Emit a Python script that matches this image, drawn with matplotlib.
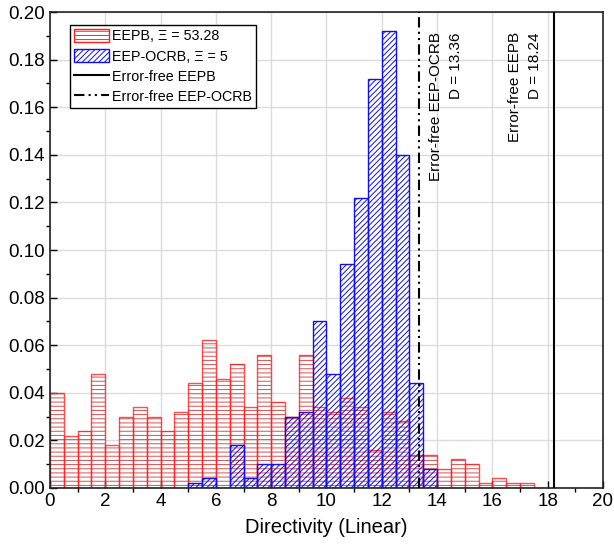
import numpy as np
import matplotlib
matplotlib.use("Agg")
import matplotlib.pyplot as plt
from matplotlib.patches import Patch
from matplotlib.lines import Line2D

plt.rcParams["font.family"] = ["Liberation Sans", "DejaVu Sans"]
plt.rcParams["hatch.linewidth"] = 0.7

# histogram data (bin width 0.5, probability per bin)
bin_width = 0.5
eepb_start = 0.0
eepb_probs = [0.040, 0.022, 0.024, 0.048, 0.018, 0.030, 0.034, 0.030, 0.024, 0.032,
              0.044, 0.062, 0.046, 0.052, 0.034, 0.056, 0.036, 0.030, 0.056, 0.034,
              0.032, 0.038, 0.034, 0.016, 0.032, 0.028, 0.014, 0.014, 0.008, 0.012,
              0.010, 0.002, 0.004, 0.002, 0.002]
ocrb_start = 5.0
ocrb_probs = [0.002, 0.004, 0.000, 0.018, 0.004, 0.010, 0.010, 0.030, 0.032, 0.070,
              0.048, 0.094, 0.122, 0.172, 0.192, 0.140, 0.044, 0.008]

d_eepb = 18.24
d_ocrb = 13.36
labels = ["EEPB, \u039e = 53.28", "EEP-OCRB, \u039e = 5",
          "Error-free EEPB", "Error-free EEP-OCRB"]

red = "#ff2020"
blue = "#1010ee"
dashdotdot = (0, (5, 2, 1, 2, 1, 2))

fig = plt.figure(figsize=(6.14, 5.48), dpi=100)
ax = fig.add_axes([0.0814, 0.1095, 0.9006, 0.8685])

x_eepb = eepb_start + bin_width * np.arange(len(eepb_probs))
x_ocrb = ocrb_start + bin_width * np.arange(len(ocrb_probs))

# red bars: hatch layer then outline layer
ax.bar(x_eepb, eepb_probs, width=bin_width, align="edge", facecolor="none",
       edgecolor="#d85050", linewidth=0, hatch="----", zorder=2)
ax.bar(x_eepb, eepb_probs, width=bin_width, align="edge", facecolor="none",
       edgecolor=red, linewidth=1.0, alpha=0.8, zorder=2)

ax.bar(x_ocrb, ocrb_probs, width=bin_width, align="edge", facecolor="none",
       edgecolor=blue, linewidth=1.0, hatch="//////", zorder=3)

ax.axvline(d_ocrb, color="black", linewidth=1.5, linestyle=dashdotdot, zorder=4)
ax.axvline(d_eepb, color="black", linewidth=1.5, zorder=4)

ax.text(14.32, 0.1915, "Error-free EEP-OCRB\nD = 13.36", rotation=90,
        ha="center", va="top", multialignment="right", fontsize=11, linespacing=1.5)
ax.text(17.18, 0.1915, "Error-free EEPB\nD = 18.24", rotation=90,
        ha="center", va="top", multialignment="right", fontsize=11, linespacing=1.5)

ax.set_xlim(0, 20)
ax.set_ylim(0, 0.20)
ax.set_xticks(np.arange(0, 21, 2))
ax.set_xticks(np.arange(0, 21, 1), minor=True)
ax.set_yticks(np.arange(0, 0.201, 0.02))
ax.set_yticks(np.arange(0, 0.201, 0.01), minor=True)
ax.yaxis.set_major_formatter(plt.FormatStrFormatter("%.2f"))
ax.tick_params(which="major", direction="in", length=5, width=1, labelsize=13.5)
ax.tick_params(which="minor", direction="out", length=3, width=1)
ax.set_xlabel("Directivity (Linear)", fontsize=14.5, labelpad=6)

ax.grid(True, which="major", color="#dcdcdc", linewidth=1)
ax.set_axisbelow(True)
for s in ax.spines.values():
    s.set_linewidth(1.2)
    s.set_color("#222222")

handles = [
    Patch(facecolor="white", edgecolor=red, hatch="----", linewidth=1),
    Patch(facecolor="white", edgecolor=blue, hatch="//////", linewidth=1),
    Line2D([], [], color="black", linewidth=1.5),
    Line2D([], [], color="black", linewidth=1.5, linestyle=dashdotdot),
]
leg = ax.legend(handles, labels, loc="upper left", bbox_to_anchor=(0.036, 0.973),
                fontsize=10.3, fancybox=False, framealpha=1, edgecolor="black",
                borderpad=0.3, labelspacing=0.4, handlelength=2.4,
                handleheight=1.0, handletextpad=0.25, borderaxespad=0)
leg.get_frame().set_linewidth(1.0)

fig.savefig("out.png", dpi=100)
